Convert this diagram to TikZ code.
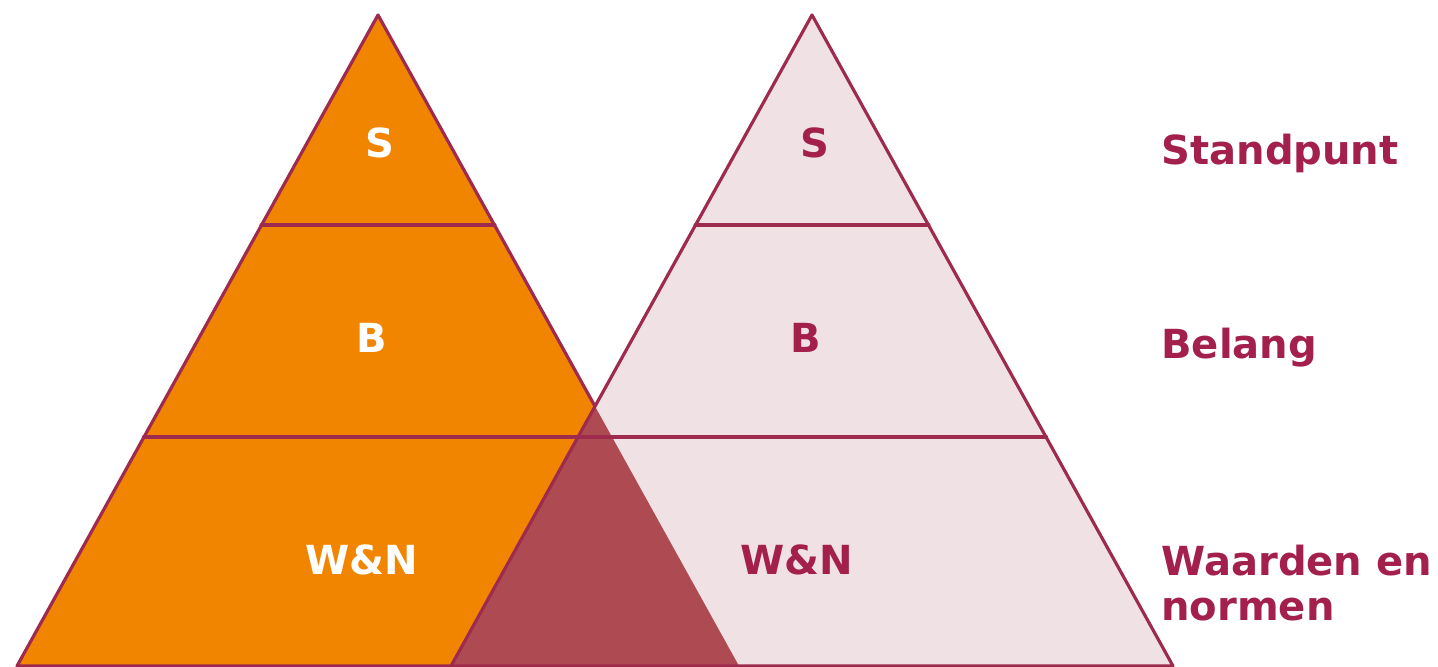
\documentclass[tikz,border=0pt]{standalone}
\usepackage{tkz-base}
\usepackage{tkz-euclide}
\usepackage{fontspec}
\setmainfont{DejaVu Sans}
\definecolor{pyrOrange}{HTML}{F28500}
\definecolor{pyrPink}{HTML}{F0E1E5}
\definecolor{pyrDark}{HTML}{AD4A52}
\definecolor{pyrLine}{HTML}{9E2A4E}
\definecolor{pyrText}{HTML}{A3204C}
\tikzset{layer text/.style={font=\fontsize{11.4}{13}\selectfont\bfseries},
    side text/.style={layer text,text=pyrText,anchor=west,align=left}
}

\begin{document}
\begin{tikzpicture}
        \useasboundingbox (0,0) rectangle (14.38,6.66);
        \tkzSetUpLine[color=pyrLine,line width=.9pt]
        % left pyramid
        \tkzDefPoint(3.78,6.51){A}
        \tkzDefPoint(0.17,0){B}
        \tkzDefPoint(7.39,0){C}
        \tkzDefPoint(2.614,4.41){A1}
        \tkzDefPoint(4.946,4.41){A2}
        \tkzDefPoint(1.438,2.29){A3}
        \tkzDefPoint(6.122,2.29){A4}
        % right pyramid
        \tkzDefPoint(8.12,6.51){D}
        \tkzDefPoint(4.51,0){E}
        \tkzDefPoint(11.73,0){F}
        \tkzDefPoint(6.954,4.41){D1}
        \tkzDefPoint(9.286,4.41){D2}
        \tkzDefPoint(5.778,2.29){D3}
        \tkzDefPoint(10.462,2.29){D4}
        \tkzInterLL(A,C)(D,E) \tkzGetPoint{I}
        \tkzFillPolygon[fill=pyrOrange](A,B,C)
        \tkzDrawPolygon(A,B,C)
        \tkzDrawSegments[line width=1.1pt](A1,A2 A3,A4)
        \tkzFillPolygon[fill=pyrPink](D,E,F)
        \tkzFillPolygon[fill=pyrDark](I,E,C)
        \tkzDrawSegments[line width=1.1pt](D1,D2 D3,D4)
        \tkzDrawPolygon(D,E,F)
        % labels
        \node[layer text,text=white] (sL) at (3.80,5.23) {S};
        \node[layer text,text=white] (bL) at (3.72,3.28) {B};
        \node[layer text,text=white] (wL) at (3.62,1.06) {W\&N};
        \node[layer text,text=pyrText] (sR) at (8.15,5.23) {S};
        \node[layer text,text=pyrText] (bR) at (8.06,3.28) {B};
        \node[layer text,text=pyrText] (wR) at (7.97,1.06) {W\&N};
        \node[side text] (stand) at (11.49,5.13) {Standpunt};
        \node[side text] (bel) at (11.49,3.18) {Belang};
        \node[side text] (wn) at (11.49,0.83) {Waarden en\\normen};
    \end{tikzpicture}
\end{document}
